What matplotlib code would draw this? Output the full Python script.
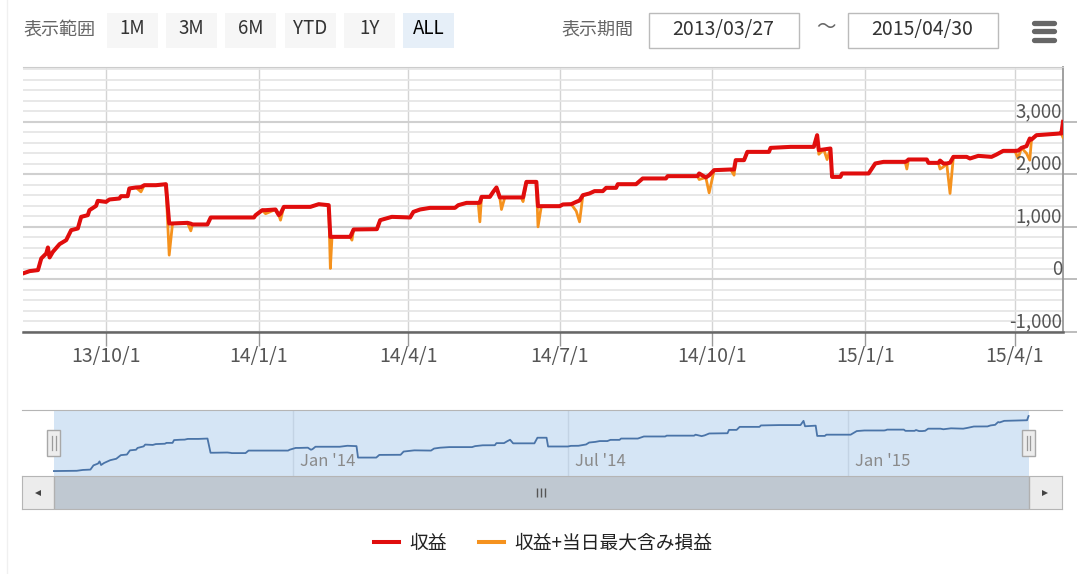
import numpy as np
import pandas as pd
import matplotlib
matplotlib.use("Agg")
import matplotlib.pyplot as plt
import matplotlib.dates as mdates
import matplotlib.transforms as mtransforms
from matplotlib.patches import Rectangle
from matplotlib.lines import Line2D
from matplotlib.ticker import FuncFormatter

plt.rcParams['font.family'] = ['Noto Sans CJK JP', 'DejaVu Sans']

# ---- data ----
dates = [
    '2013-07-28', '2013-08-12', '2013-08-16', '2013-08-21', '2013-08-23', '2013-08-26', '2013-08-27', '2013-08-28', '2013-08-30', '2013-09-03',
    '2013-09-07', '2013-09-10', '2013-09-14', '2013-09-16', '2013-09-20', '2013-09-21', '2013-09-25', '2013-09-26', '2013-10-01', '2013-10-03',
    '2013-10-09', '2013-10-10', '2013-10-14', '2013-10-15', '2013-10-19', '2013-10-22', '2013-10-24', '2013-10-31', '2013-11-06', '2013-11-08',
    '2013-11-10', '2013-11-19', '2013-11-21', '2013-11-22', '2013-12-01', '2013-12-03', '2013-12-29', '2013-12-30', '2014-01-03', '2014-01-05',
    '2014-01-11', '2014-01-13', '2014-01-14', '2014-01-16', '2014-02-01', '2014-02-06', '2014-02-12', '2014-02-13', '2014-02-14', '2014-02-20',
    '2014-02-25', '2014-02-26', '2014-02-27', '2014-03-13', '2014-03-15', '2014-03-22', '2014-04-02', '2014-04-04', '2014-04-08', '2014-04-14',
    '2014-04-29', '2014-05-01', '2014-05-06', '2014-05-13', '2014-05-14', '2014-05-15', '2014-05-20', '2014-05-22', '2014-05-24', '2014-05-26',
    '2014-05-27', '2014-05-29', '2014-06-08', '2014-06-09', '2014-06-11', '2014-06-17', '2014-06-18', '2014-06-20', '2014-07-01', '2014-07-03',
    '2014-07-08', '2014-07-11', '2014-07-13', '2014-07-15', '2014-07-19', '2014-07-22', '2014-07-27', '2014-07-29', '2014-08-04', '2014-08-05',
    '2014-08-16', '2014-08-20', '2014-09-03', '2014-09-04', '2014-09-22', '2014-09-23', '2014-09-27', '2014-09-29', '2014-10-02', '2014-10-12',
    '2014-10-14', '2014-10-15', '2014-10-20', '2014-10-22', '2014-11-04', '2014-11-05', '2014-11-17', '2014-12-01', '2014-12-03', '2014-12-04',
    '2014-12-07', '2014-12-09', '2014-12-11', '2014-12-12', '2014-12-17', '2014-12-18', '2015-01-03', '2015-01-07', '2015-01-12', '2015-01-25',
    '2015-01-26', '2015-01-27', '2015-02-07', '2015-02-08', '2015-02-14', '2015-02-15', '2015-02-17', '2015-02-19', '2015-02-21', '2015-02-23',
    '2015-03-03', '2015-03-05', '2015-03-10', '2015-03-18', '2015-03-21', '2015-03-25', '2015-04-01', '2015-04-03', '2015-04-05', '2015-04-08',
    '2015-04-10', '2015-04-11', '2015-04-14', '2015-04-28', '2015-04-29', '2015-04-30',
]

# 収益
profit = [
    100, 114, 158, 177, 399, 494, 608, 418, 525, 671,
    747, 937, 969, 1190, 1222, 1317, 1399, 1494, 1475, 1520,
    1539, 1583, 1583, 1730, 1749, 1755, 1792, 1792, 1811, 1064,
    1064, 1076, 1060, 1045, 1045, 1178, 1178, 1222, 1317, 1317,
    1330, 1222, 1250, 1380, 1380, 1431, 1412, 810, 810, 810,
    810, 880, 950, 956, 1127, 1190, 1178, 1285, 1330, 1361,
    1361, 1412, 1456, 1456, 1460, 1570, 1570, 1665, 1749, 1559,
    1559, 1559, 1559, 1559, 1855, 1855, 1393, 1393, 1393, 1426,
    1431, 1475, 1500, 1602, 1635, 1679, 1679, 1742, 1742, 1811,
    1811, 1920, 1920, 1964, 1964, 2015, 1939, 1980, 2078, 2091,
    2091, 2268, 2268, 2426, 2426, 2502, 2521, 2521, 2743, 2458,
    2471, 2480, 2490, 1950, 1950, 2015, 2015, 2205, 2236, 2236,
    2250, 2281, 2281, 2217, 2217, 2260, 2205, 2205, 2220, 2331,
    2331, 2300, 2350, 2331, 2376, 2445, 2445, 2450, 2502, 2534,
    2680, 2660, 2743, 2775, 2775, 2996,
]

# 収益+当日最大含み損益
profit_low = [
    100, 114, 158, 177, 399, 494, 608, 418, 525, 671,
    747, 937, 969, 1190, 1222, 1317, 1399, 1494, 1475, 1520,
    1539, 1583, 1583, 1730, 1749, 1665, 1792, 1792, 1811, 462,
    1064, 1076, 924, 1045, 1045, 1178, 1178, 1222, 1317, 1250,
    1330, 1222, 1127, 1380, 1380, 1431, 1412, 209, 810, 810,
    810, 747, 950, 956, 1127, 1190, 1178, 1285, 1330, 1361,
    1361, 1412, 1456, 1456, 1095, 1570, 1570, 1665, 1749, 1559,
    1330, 1559, 1559, 1480, 1855, 1855, 1000, 1393, 1393, 1426,
    1431, 1300, 1095, 1602, 1635, 1679, 1679, 1742, 1742, 1811,
    1811, 1920, 1920, 1964, 1964, 1900, 1939, 1647, 2078, 2091,
    1983, 2268, 2268, 2426, 2426, 2502, 2521, 2521, 2743, 2380,
    2471, 2280, 2490, 1950, 1950, 2015, 2015, 2205, 2236, 2236,
    2100, 2281, 2281, 2217, 2217, 2100, 2140, 2205, 1635, 2331,
    2331, 2300, 2350, 2331, 2376, 2445, 2445, 2300, 2502, 2400,
    2268, 2650, 2743, 2775, 2775, 2700,
]

y_ticks = [-1000, 0, 1000, 2000, 3000]
range_buttons = ['1M', '3M', '6M', 'YTD', '1Y', 'ALL']
period_from = '2013/03/27'
period_to = '2015/04/30'
legend_labels = ['収益', '収益+当日最大含み損益']

RED = '#e00d0d'
ORANGE = '#f5921e'
NAV_LINE = '#4a74a8'
NAV_MASK = '#d5e5f5'

W, H = 1080, 574


def fx(px):
    return px / W


def fy(py):
    return 1 - py / H


def box(x, y, w, h, **kw):
    # rectangle given in pixel coords measured from top-left
    fig.add_artist(Rectangle((fx(x), fy(y + h)), w / W, h / H,
                             transform=fig.transFigure, **kw))


fig = plt.figure(figsize=(W / 100, H / 100), dpi=100)
t = pd.to_datetime(dates)

# ---- main chart ----
ax = fig.add_axes([fx(23), fy(332), fx(1040), 265 / H])
ax.plot(t, profit_low, color=ORANGE, lw=2.0, zorder=3)
l_red, = ax.plot(t, profit, color=RED, lw=2.9, zorder=4)
l_org = Line2D([], [], color=ORANGE, lw=2.9)
# first point is only visible in the navigator
ax.set_xlim(t[1], t[-1])
ax.set_ylim(-1000, 4040)

ax.set_yticks(y_ticks)
ax.set_yticks(np.arange(-1000, 4001, 200), minor=True)
ax.yaxis.tick_right()
ax.tick_params(axis='y', which='major', direction='out', length=10, width=1.3,
               color='#b8b8b8', labelright=False)
ax.tick_params(axis='y', which='minor', length=0)
ax.grid(which='minor', axis='y', color='#e4e4e4', lw=1.2)
ax.grid(which='major', axis='y', color='#d0d0d0', lw=1.5)

ax.xaxis.set_major_locator(mdates.MonthLocator(bymonth=[1, 4, 7, 10]))
ax.xaxis.set_major_formatter(FuncFormatter(
    lambda v, p: '{}/{}/{}'.format(mdates.num2date(v).year % 100,
                                   mdates.num2date(v).month,
                                   mdates.num2date(v).day)))
ax.tick_params(axis='x', direction='out', length=10, width=1, color='#999999',
               labelsize=14, labelcolor='#555555', pad=0)
ax.grid(which='major', axis='x', color='#d4d4d4', lw=1)
ax.set_axisbelow(True)

ax.spines['left'].set_visible(False)
ax.spines['top'].set_color('#cccccc')
ax.spines['right'].set_color('#999999')
ax.spines['right'].set_linewidth(1.3)
ax.spines['bottom'].set_color('#666666')
ax.spines['bottom'].set_linewidth(1.8)

lab_tr = mtransforms.offset_copy(ax.get_yaxis_transform(), fig=fig, x=-1, y=10, units='dots')
for v in y_ticks:
    ax.text(1.0, v, '{:,}'.format(v), transform=lab_tr, ha='right', va='center',
            fontsize=13.5, color='#555555')

# ---- navigator ----
nav_start = t[0] - pd.Timedelta(days=21)
nav_end = t[-1] + pd.Timedelta(days=22)
nav = fig.add_axes([fx(22), fy(476), fx(1040), 66 / H])
nav.set_xlim(nav_start, nav_end)
span = max(profit) - min(profit)
nav.set_ylim(min(profit) - 0.09 * span, max(profit) + 0.11 * span)
nav.axvspan(t[0], t[-1], color=NAV_MASK, lw=0, zorder=0)
nav.plot(t, profit, color=NAV_LINE, lw=1.3, zorder=3)
nav.xaxis.set_major_locator(mdates.MonthLocator(bymonth=[1, 7]))
nav.grid(axis='x', color='#c3d3e4', lw=1, zorder=1)
nav.tick_params(length=0, labelbottom=False, labelleft=False)
for s in ['left', 'right', 'bottom']:
    nav.spines[s].set_visible(False)
nav.spines['top'].set_color('#b5b5b5')
nav_tr = mtransforms.offset_copy(nav.get_xaxis_transform(), fig=fig, x=7, y=0, units='dots')
for d in pd.date_range(nav_start, nav_end, freq='MS'):
    if d.month in (1, 7):
        nav.text(d, 0.22, d.strftime("%b '%y"), transform=nav_tr, ha='left', va='center',
                 fontsize=12, color='#8a8a8a', zorder=4)

# handles at both ends of the selection
hw = pd.Timedelta(days=8.5)
for d in (t[0], t[-1]):
    nav.add_patch(Rectangle((mdates.date2num(d - hw / 2), 0.30), hw.days + 0.5, 0.40,
                            transform=nav.get_xaxis_transform(), facecolor='#ededed',
                            edgecolor='#a8a8a8', lw=1, zorder=5, clip_on=False))
    for off in (-1.1, 1.1):
        nav.plot([mdates.date2num(d) + off] * 2, [0.40, 0.60], color='#9a9a9a', lw=0.9,
                 transform=nav.get_xaxis_transform(), zorder=6, clip_on=False)

# ---- scrollbar ----
sb = fig.add_axes([fx(22), fy(509), fx(1040), 33 / H])
sb.set_xlim(nav_start, nav_end)
sb.set_ylim(0, 1)
sb.axvspan(nav_start, t[0], color='#ececec', lw=0)
sb.axvspan(t[-1], nav_end, color='#ececec', lw=0)
sb.axvspan(t[0], t[-1], color='#bfc8d1', lw=0)
sb.axvline(t[0], color='#b0b0b0', lw=1)
sb.axvline(t[-1], color='#b0b0b0', lw=1)
sb.plot([nav_start + (t[0] - nav_start) / 2], [0.5], marker='<', ms=4.5, color='#444444', mew=0)
sb.plot([t[-1] + (nav_end - t[-1]) / 2], [0.5], marker='>', ms=4.5, color='#444444', mew=0)
mid = t[0] + (t[-1] - t[0]) / 2
sb.vlines([mid - pd.Timedelta(days=2.5), mid, mid + pd.Timedelta(days=2.5)], 0.35, 0.65,
          color='#555555', lw=1)
sb.set_xticks([])
sb.set_yticks([])
for s in sb.spines.values():
    s.set_color('#b5b5b5')

# ---- header controls ----
fig.add_artist(Line2D([fx(7), fx(7)], [0, 1], color='#f0f0f0', lw=1, transform=fig.transFigure))
fig.text(fx(23), fy(30), '表示範囲', ha='left', va='center', fontsize=13, color='#666666')
for i, lab in enumerate(range_buttons):
    x0 = 107 + i * 59.2
    sel = lab == 'ALL'
    box(x0, 13, 51, 35, facecolor='#e6eff8' if sel else '#f6f6f6', edgecolor='none')
    fig.text(fx(x0 + 25.5), fy(29), lab, ha='center', va='center', fontsize=13.5,
             color='#000000' if sel else '#333333')

fig.text(fx(561), fy(30), '表示期間', ha='left', va='center', fontsize=13, color='#666666')
box(648.5, 13, 150, 35, facecolor='white', edgecolor='#bbbbbb', lw=1)
box(847.5, 13, 150, 35, facecolor='white', edgecolor='#bbbbbb', lw=1)
fig.text(fx(723.5), fy(29), period_from, ha='center', va='center', fontsize=14, color='#333333')
fig.text(fx(922.5), fy(29), period_to, ha='center', va='center', fontsize=14, color='#333333')
fig.text(fx(826), fy(28), '～', ha='center', va='center', fontsize=14, color='#666666')
for yy in (22.5, 31, 39.5):
    fig.add_artist(Line2D([fx(1034), fx(1054)], [fy(yy), fy(yy)], color='#666666', lw=3.8,
                          solid_capstyle='round', transform=fig.transFigure))

# ---- legend ----
fig.legend([l_red, l_org], legend_labels, loc='center', bbox_to_anchor=(fx(543), fy(543)),
           ncol=2, frameon=False, fontsize=13.5, handlelength=1.35, handletextpad=0.5,
           columnspacing=1.75, labelcolor='#222222')

fig.savefig('out.png', dpi=100)
